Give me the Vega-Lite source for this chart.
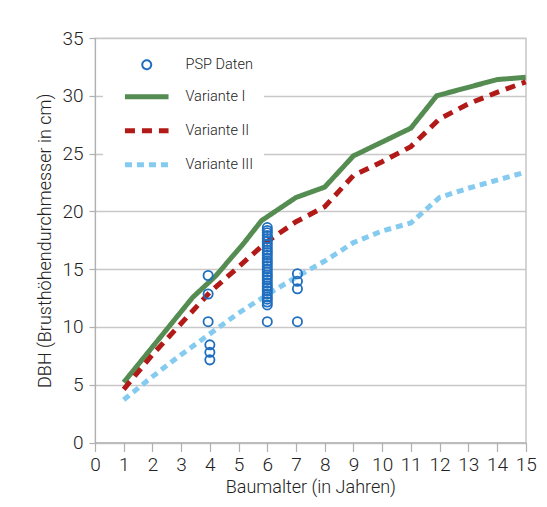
{
  "$schema": "https://vega.github.io/schema/vega-lite/v6.json",
  "width": 430.7,
  "height": 404.5,
  "autosize": {"type": "none"},
  "padding": {"left": 95, "top": 38, "right": 21.3, "bottom": 64.5},
  "background": "white",
  "config": {"view": {"stroke": "#b8b8b8", "strokeWidth": 1.2}, "font": "Roboto"},
  "data": {"values": [
    {"series": "Variante I", "age": 1, "dbh": 5.2},
    {"series": "Variante I", "age": 3.4, "dbh": 12.55},
    {"series": "Variante I", "age": 4.2, "dbh": 14.4},
    {"series": "Variante I", "age": 5.2, "dbh": 17.3},
    {"series": "Variante I", "age": 5.8, "dbh": 19.2},
    {"series": "Variante I", "age": 7, "dbh": 21.2},
    {"series": "Variante I", "age": 8, "dbh": 22.1},
    {"series": "Variante I", "age": 9, "dbh": 24.8},
    {"series": "Variante I", "age": 11, "dbh": 27.2},
    {"series": "Variante I", "age": 11.9, "dbh": 30.0},
    {"series": "Variante I", "age": 14, "dbh": 31.4},
    {"series": "Variante I", "age": 15, "dbh": 31.6},
    {"series": "Variante II", "age": 1, "dbh": 4.6},
    {"series": "Variante II", "age": 2, "dbh": 7.6},
    {"series": "Variante II", "age": 3, "dbh": 10.3},
    {"series": "Variante II", "age": 4, "dbh": 13.0},
    {"series": "Variante II", "age": 5, "dbh": 15.2},
    {"series": "Variante II", "age": 6, "dbh": 17.4},
    {"series": "Variante II", "age": 7, "dbh": 19.1},
    {"series": "Variante II", "age": 8, "dbh": 20.4},
    {"series": "Variante II", "age": 9, "dbh": 23.1},
    {"series": "Variante II", "age": 10, "dbh": 24.3},
    {"series": "Variante II", "age": 11, "dbh": 25.6},
    {"series": "Variante II", "age": 12, "dbh": 28.0},
    {"series": "Variante II", "age": 13, "dbh": 29.3},
    {"series": "Variante II", "age": 14, "dbh": 30.3},
    {"series": "Variante II", "age": 15, "dbh": 31.2},
    {"series": "Variante III", "age": 1, "dbh": 3.7},
    {"series": "Variante III", "age": 2, "dbh": 5.7},
    {"series": "Variante III", "age": 3, "dbh": 7.6},
    {"series": "Variante III", "age": 4, "dbh": 9.4},
    {"series": "Variante III", "age": 5, "dbh": 11.2},
    {"series": "Variante III", "age": 6, "dbh": 12.8},
    {"series": "Variante III", "age": 7, "dbh": 14.3},
    {"series": "Variante III", "age": 8, "dbh": 15.7},
    {"series": "Variante III", "age": 9, "dbh": 17.3},
    {"series": "Variante III", "age": 10, "dbh": 18.3},
    {"series": "Variante III", "age": 11, "dbh": 19.0},
    {"series": "Variante III", "age": 12, "dbh": 21.2},
    {"series": "Variante III", "age": 13, "dbh": 22.0},
    {"series": "Variante III", "age": 14, "dbh": 22.7},
    {"series": "Variante III", "age": 15, "dbh": 23.4},
    {"series": "PSP Daten", "age": 3.94, "dbh": 14.45},
    {"series": "PSP Daten", "age": 3.94, "dbh": 12.85},
    {"series": "PSP Daten", "age": 3.94, "dbh": 10.45},
    {"series": "PSP Daten", "age": 4.0, "dbh": 8.45},
    {"series": "PSP Daten", "age": 4.0, "dbh": 7.8},
    {"series": "PSP Daten", "age": 4.0, "dbh": 7.15},
    {"series": "PSP Daten", "age": 6, "dbh": 10.45},
    {"series": "PSP Daten", "age": 6, "dbh": 11.9},
    {"series": "PSP Daten", "age": 6, "dbh": 12.15},
    {"series": "PSP Daten", "age": 6, "dbh": 12.4},
    {"series": "PSP Daten", "age": 6, "dbh": 12.6},
    {"series": "PSP Daten", "age": 6, "dbh": 12.85},
    {"series": "PSP Daten", "age": 6, "dbh": 13.1},
    {"series": "PSP Daten", "age": 6, "dbh": 13.35},
    {"series": "PSP Daten", "age": 6, "dbh": 13.55},
    {"series": "PSP Daten", "age": 6, "dbh": 13.8},
    {"series": "PSP Daten", "age": 6, "dbh": 14.05},
    {"series": "PSP Daten", "age": 6, "dbh": 14.3},
    {"series": "PSP Daten", "age": 6, "dbh": 14.5},
    {"series": "PSP Daten", "age": 6, "dbh": 14.75},
    {"series": "PSP Daten", "age": 6, "dbh": 15.0},
    {"series": "PSP Daten", "age": 6, "dbh": 15.25},
    {"series": "PSP Daten", "age": 6, "dbh": 15.5},
    {"series": "PSP Daten", "age": 6, "dbh": 15.7},
    {"series": "PSP Daten", "age": 6, "dbh": 15.95},
    {"series": "PSP Daten", "age": 6, "dbh": 16.2},
    {"series": "PSP Daten", "age": 6, "dbh": 16.45},
    {"series": "PSP Daten", "age": 6, "dbh": 16.65},
    {"series": "PSP Daten", "age": 6, "dbh": 16.9},
    {"series": "PSP Daten", "age": 6, "dbh": 17.15},
    {"series": "PSP Daten", "age": 6, "dbh": 17.4},
    {"series": "PSP Daten", "age": 6, "dbh": 17.65},
    {"series": "PSP Daten", "age": 6, "dbh": 17.9},
    {"series": "PSP Daten", "age": 6, "dbh": 18.15},
    {"series": "PSP Daten", "age": 6, "dbh": 18.35},
    {"series": "PSP Daten", "age": 6, "dbh": 18.6},
    {"series": "PSP Daten", "age": 7.05, "dbh": 14.6},
    {"series": "PSP Daten", "age": 7.05, "dbh": 13.95},
    {"series": "PSP Daten", "age": 7.05, "dbh": 13.3},
    {"series": "PSP Daten", "age": 7.05, "dbh": 10.45}
  ]},
  "encoding": {
    "x": {"field": "age", "type": "quantitative",
      "scale": {"domain": [0, 15], "nice": false},
      "axis": {"values": [0,1,2,3,4,5,6,7,8,9,10,11,12,13,14,15], "title": "Baumalter (in Jahren)",
        "grid": false, "tickSize": 9, "tickColor": "#b0b0b0", "tickWidth": 1.2, "domainColor": "#b0b0b0", "domainWidth": 1.2,
        "labelFontSize": 19, "labelColor": "#222", "labelPadding": 4, "labelFlush": false, "labelFont": "Roboto", "labelFontWeight": 300,
        "titleFontSize": 18, "titleFontWeight": 300, "titleColor": "#222", "titlePadding": 4, "titleFont": "Roboto"}},
    "y": {"field": "dbh", "type": "quantitative",
      "scale": {"domain": [0, 35], "nice": false},
      "axis": {"values": [0,5,10,15,20,25,30,35], "title": "DBH (Brusthöhendurchmesser in cm)",
        "grid": true, "gridColor": "#c8c8c8", "gridWidth": 1.5,
        "tickSize": 6, "tickColor": "#b0b0b0", "tickWidth": 1.2, "domainColor": "#b0b0b0", "domainWidth": 1.2,
        "labelFontSize": 19, "labelColor": "#222", "labelPadding": 6, "labelFont": "Roboto", "labelFontWeight": 300,
        "titleFontSize": 18, "titleFontWeight": 300, "titleColor": "#222", "titlePadding": 7, "titleFont": "Roboto"}}
  },
  "layer": [
    {
      "transform": [{"filter": "datum.series !== 'PSP Daten'"}],
      "mark": {"type": "line", "strokeWidth": 5, "strokeCap": "butt"},
      "encoding": {
        "color": {"field": "series", "type": "nominal",
          "scale": {"domain": ["PSP Daten", "Variante I", "Variante II", "Variante III"], "range": ["#1F6EBF", "#548C52", "#B11A17", "#85CBF0"]},
          "legend": {"title": null, "orient": "none", "legendX": 8, "legendY": 9.5, "fillColor": "white", "padding": 10,
            "symbolSize": 900, "symbolType": "stroke", "symbolOffset": 26.5, "labelOffset": 31.5, "rowPadding": 13,
            "labelFontSize": 14.5, "labelColor": "#222", "labelFont": "Roboto", "labelFontWeight": 300,
            "encode": {"symbols": {"update": {
              "shape": {"signal": "datum.value === 'PSP Daten' ? 'circle' : 'stroke'"},
              "size": {"signal": "datum.value === 'PSP Daten' ? 80 : 1900"},
              "strokeWidth": {"signal": "datum.value === 'PSP Daten' ? 2 : 5"},
              "strokeDash": {"signal": "datum.value === 'Variante II' ? [10,7] : datum.value === 'Variante III' ? [7,5] : [1,0]"},
              "fill": {"value": "transparent"},
              "opacity": {"value": 1},
              "stroke": {"scale": "color", "field": "value"}
            }}}}},
        "strokeDash": {"field": "series", "type": "nominal",
          "scale": {"domain": ["Variante I", "Variante II", "Variante III"], "range": [[1, 0], [10, 7], [7, 5]]},
          "legend": null}
      }
    },
    {
      "transform": [{"filter": "datum.series === 'PSP Daten'"}],
      "mark": {"type": "point", "filled": false, "size": 85, "strokeWidth": 1.8, "opacity": 1},
      "encoding": {
        "color": {"field": "series", "type": "nominal",
          "scale": {"domain": ["PSP Daten", "Variante I", "Variante II", "Variante III"], "range": ["#1F6EBF", "#548C52", "#B11A17", "#85CBF0"]}}
      }
    }
  ]
}
